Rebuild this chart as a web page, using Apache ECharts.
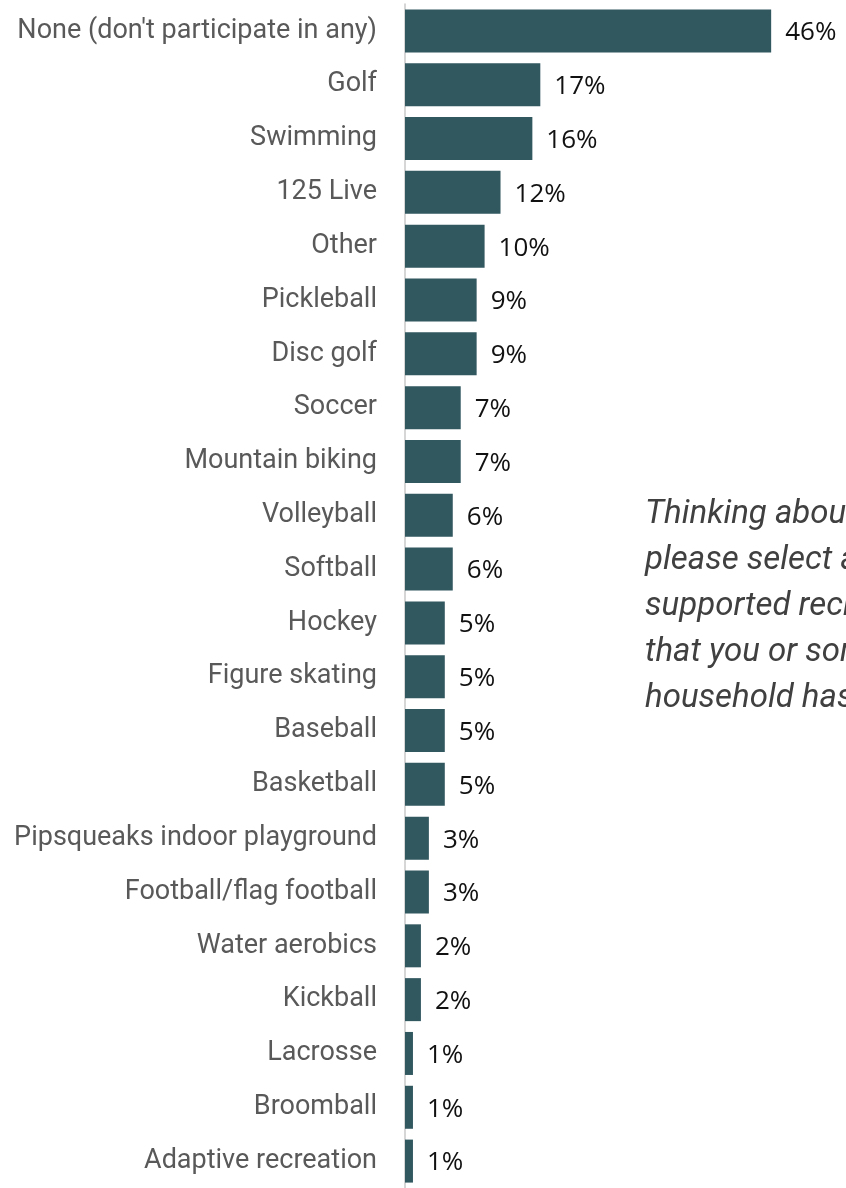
<!DOCTYPE html>
<html>
<head>
<meta charset="utf-8">
<script src="https://cdn.jsdelivr.net/npm/echarts@6/dist/echarts.min.js"></script>
<style>
  html, body { margin: 0; padding: 0; background: #fff; }
  #chart { width: 846px; height: 1188px; }
</style>
</head>
<body>
<div id="chart"></div>
<script>
const categories = [
  'None (don\'t participate in any)', 'Golf', 'Swimming', '125 Live', 'Other',
  'Pickleball', 'Disc golf', 'Soccer', 'Mountain biking', 'Volleyball', 'Softball',
  'Hockey', 'Figure skating', 'Baseball', 'Basketball', 'Pipsqueaks indoor playground',
  'Football/flag football', 'Water aerobics', 'Kickball', 'Lacrosse', 'Broomball',
  'Adaptive recreation'
]
const shares = [46, 17, 16, 12, 10, 9, 9, 7, 7, 6, 6, 5, 5, 5, 5, 3, 3, 2, 2, 1, 1, 1]
const questionLines = [
  'Thinking about the past year,',
  'please select all city-',
  'supported recreation programs',
  'that you or someone in your',
  'household has participated in.'
]

const chart = echarts.init(document.getElementById('chart'))
const option = {
  animation: false,
  grid: { left: 405, right: 43, top: 4, height: 1190 },
  xAxis: {
    type: 'value',
    min: 0,
    max: 50,
    show: false
  },
  yAxis: {
    type: 'category',
    inverse: true,
    data: categories,
    axisLine: { show: true, lineStyle: { color: '#c9c9c9', width: 1.5 } },
    axisTick: { show: false },
    axisLabel: {
      margin: 28,
      color: '#595959',
      fontFamily: 'Roboto',
      fontSize: 27
    }
  },
  series: [
    {
      type: 'bar',
      data: shares,
      barWidth: 43,
      itemStyle: { color: '#31575f' },
      label: {
        show: true,
        position: 'right',
        distance: 14,
        offset: [0, 2],
        formatter: '{c}%',
        color: '#111',
        fontFamily: 'Open Sans',
        fontSize: 26
      }
    }
  ],
  graphic: [
    {
      type: 'text',
      left: 645,
      top: 492,
      style: {
        text: questionLines.join('\n'),
        font: 'italic 33px Roboto',
        lineHeight: 46,
        fill: '#404040'
      }
    }
  ]
}
chart.setOption(option)
</script>
</body>
</html>
